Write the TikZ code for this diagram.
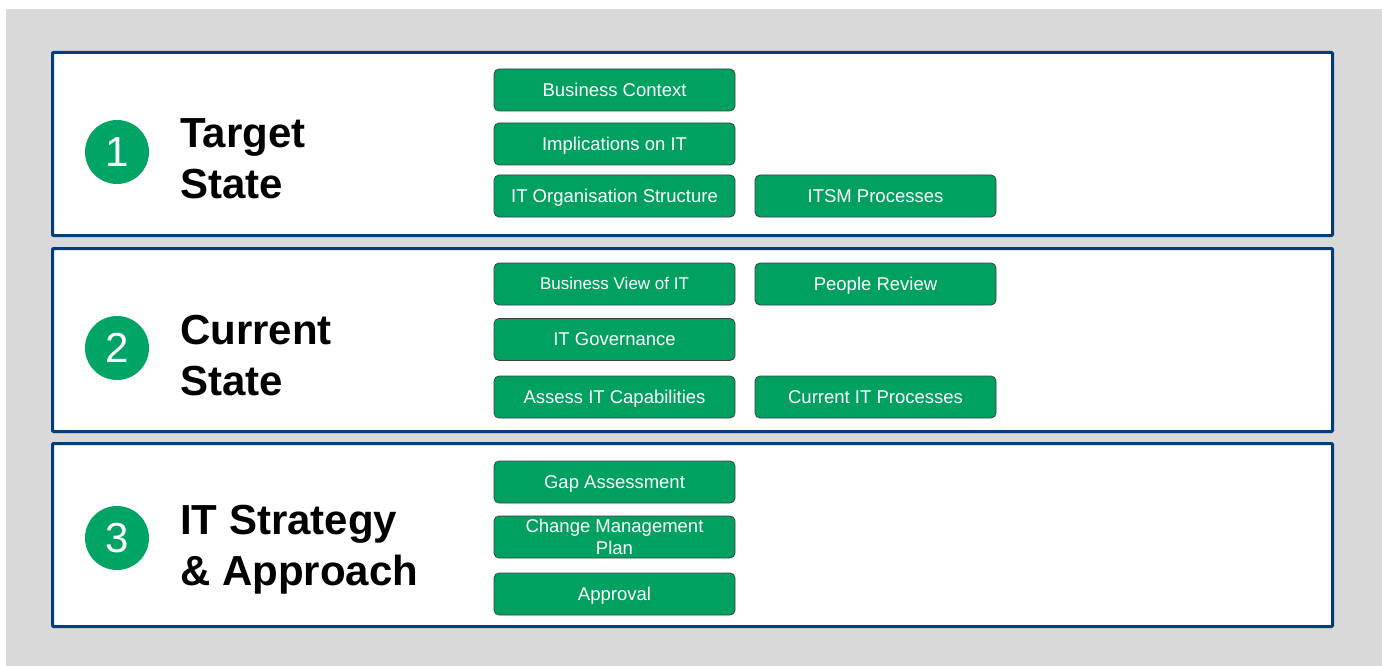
\documentclass[tikz,border=0pt]{standalone}
\usepackage{fontspec}
\setmainfont{Liberation Sans}
\definecolor{pagegray}{RGB}{217,217,217}
\definecolor{navy}{RGB}{0,61,122}
\definecolor{boxgreen}{RGB}{0,160,96}
\definecolor{circgreen}{RGB}{0,164,100}
\definecolor{boxline}{RGB}{64,64,64}

\begin{document}
\begin{tikzpicture}[x=1pt,y=-1pt,
    panel/.style={draw=navy, line width=3pt, fill=white, rounded corners=1pt},
    num/.style={circle, fill=circgreen, text=white, minimum size=64pt, inner sep=0pt, font=\fontsize{42}{50}\selectfont},
    title/.style={anchor=west, align=left, inner sep=0pt, font=\fontsize{42}{51}\selectfont\bfseries},
    task/.style={draw=boxline, line width=0.8pt, fill=boxgreen, text=white, rounded corners=5pt, minimum width=241pt, minimum height=42pt, inner sep=0pt, align=center, text height=13.3pt, text depth=0.5pt, font=\fontsize{18.5}{22}\selectfont}]
      \useasboundingbox (0,0) rectangle (1382,666);
      \fill[pagegray] (6,9) rectangle (1382,666);
      \draw[panel] (52.5,52.5) rectangle (1332.5,235.5);
      \draw[panel] (52.5,248.5) rectangle (1332.5,431.5);
      \draw[panel] (52.5,443.5) rectangle (1332.5,626.5);
      \node[num] (N1) at (117,152) {1};
      \node[num] (N2) at (117,348) {2};
      \node[num] (N3) at (117,538) {3};
      \node[title] (H1) at (180,159) {Target\\State};
      \node[title] (H2) at (180,356) {Current\\State};
      \node[title] (H3) at (180,550) {IT Strategy\\\& Approach};
      \node[task] (B1) at (614.5,90) {Business Context};
      \node[task] (B2) at (614.5,144) {Implications on IT};
      \node[task] (B3) at (614.5,196) {IT Organisation Structure};
      \node[task] (B4) at (875.5,196) {ITSM Processes};
      \node[task, text height=12.2pt, font=\fontsize{17}{20}\selectfont] (B5) at (614.5,284) {Business View of IT};
      \node[task] (B6) at (875.5,284) {People Review};
      \node[task] (B7) at (614.5,339.5) {IT Governance};
      \node[task] (B8) at (614.5,397) {Assess IT Capabilities};
      \node[task] (B9) at (875.5,397) {Current IT Processes};
      \node[task] (B10) at (614.5,482) {Gap Assessment};
      \node[task, text height=35.3pt] (B11) at (614.5,537) {Change Management\\Plan};
      \node[task] (B12) at (614.5,594) {Approval};
    \end{tikzpicture}
\end{document}
